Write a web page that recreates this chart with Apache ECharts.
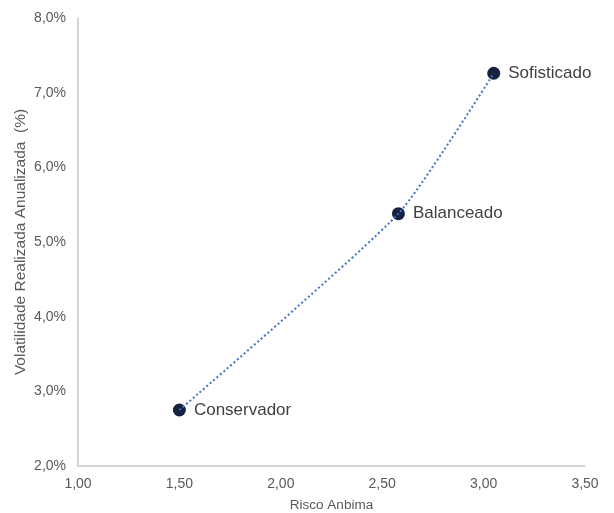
<!DOCTYPE html>
<html><head><meta charset="utf-8">
<script src="https://cdn.jsdelivr.net/npm/echarts@6/dist/echarts.min.js"></script>
<style>html,body{margin:0;padding:0;background:#fff}#c{width:614px;height:513px}</style>
</head><body><div id="c"></div>
<script>
const names = ['Conservador', 'Balanceado', 'Sofisticado'];
const risco = [1.50, 2.58, 3.05];
const vol = [2.75, 5.38, 7.26];
const xLabelFmt = v => v.toFixed(2).replace('.', ',');
const yLabelFmt = v => v.toFixed(1).replace('.', ',') + '%';

const pts = names.map((n, i) => ({ name: n, value: [risco[i], vol[i]] }));
const chart = echarts.init(document.getElementById('c'), null, { renderer: 'canvas' });
const font = 'Arial, "Liberation Sans", sans-serif';
chart.setOption({
  animation: false,
  grid: { left: 78, right: 29, top: 18, bottom: 47, containLabel: false, outerBoundsMode: 'none' },
  xAxis: {
    type: 'value', min: 1, max: 3.5, interval: 0.5,
    name: 'Risco Anbima', nameLocation: 'middle', nameGap: 32, nameMoveOverlap: false,
    nameTextStyle: { color: '#595959', fontSize: 13.5, fontFamily: font },
    axisLine: { show: true, lineStyle: { color: '#c8c8c8', width: 1.5 } },
    axisTick: { show: false },
    splitLine: { show: false },
    axisLabel: { color: '#595959', fontSize: 14, fontFamily: font, formatter: xLabelFmt, margin: 11 }
  },
  yAxis: {
    type: 'value', min: 2, max: 8, interval: 1,
    name: 'Volatilidade Realizada Anualizada  (%)', nameLocation: 'middle', nameGap: 49, nameMoveOverlap: false,
    nameTextStyle: { color: '#595959', fontSize: 15.5, fontFamily: font },
    axisLine: { show: true, lineStyle: { color: '#c8c8c8', width: 1.5 } },
    axisTick: { show: false },
    splitLine: { show: false },
    axisLabel: { color: '#595959', fontSize: 14, fontFamily: font, formatter: yLabelFmt, margin: 12 }
  },
  series: [
    {
      type: 'line', data: pts, smooth: 0.18, symbol: 'none',
      lineStyle: { color: '#4472C4', width: 2, type: [2, 2.5] }, z: 3
    },
    {
      type: 'scatter', data: pts, symbolSize: 13,
      itemStyle: { color: '#162240', opacity: 1 }, z: 2,
      label: { show: true, position: 'right', distance: 8, formatter: p => p.name,
               color: '#404040', fontSize: 17, fontFamily: font }
    }
  ]
});
</script></body></html>
